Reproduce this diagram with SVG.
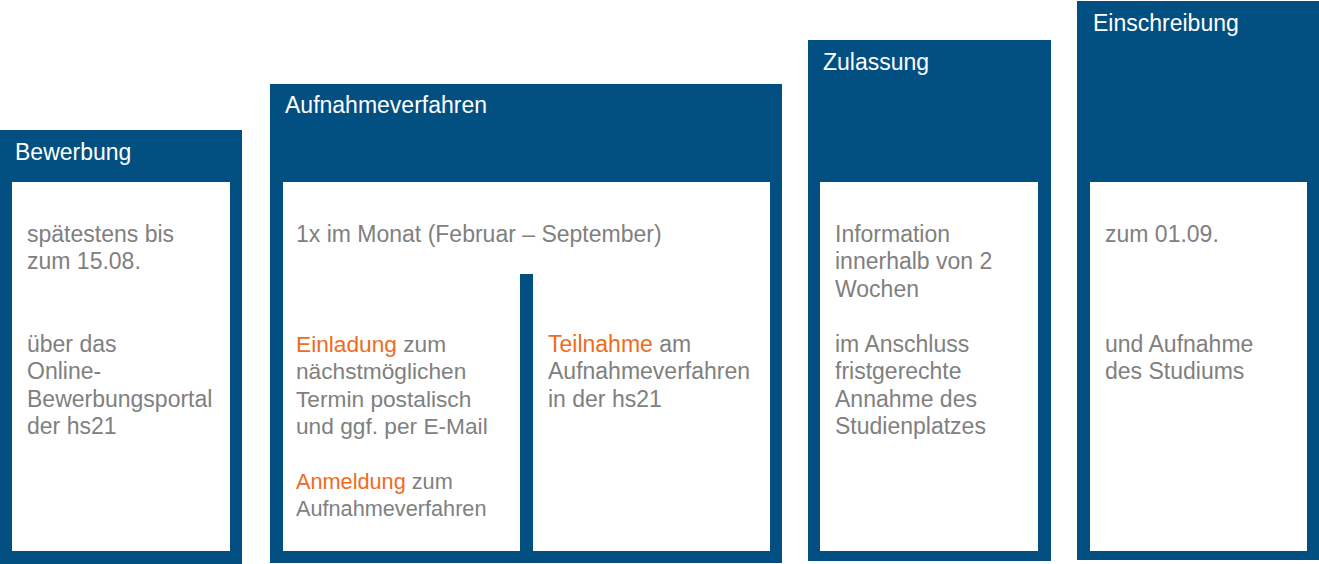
<svg xmlns="http://www.w3.org/2000/svg" width="1319" height="564" viewBox="0 0 1319 564">
<style>
.frame{fill:#024f82}
.panel{fill:#ffffff}
.title{font-family:"Liberation Sans",Arial,sans-serif;font-size:23px;fill:#ffffff}
.body{font-family:"Liberation Sans",Arial,sans-serif;font-size:23px;fill:#808080}
.s2{font-size:22.7px}
.s3{font-size:21.7px}
.hl{fill:#ef6b22}
</style>
<rect width="1319" height="564" fill="#ffffff"/>
<g id="bewerbung">
<rect class="frame" x="0" y="130" width="242" height="434"/>
<rect class="panel" x="12" y="182" width="218" height="369"/>
<text class="title" x="15" y="160">Bewerbung</text>
<text class="body" x="27" y="241.5">spätestens bis</text>
<text class="body" x="27" y="269">zum 15.08.</text>
<text class="body" x="27" y="351.5">über das</text>
<text class="body" x="27" y="379">Online-</text>
<text class="body" x="27" y="406.5">Bewerbungsportal</text>
<text class="body" x="27" y="434">der hs21</text>
</g>
<g id="aufnahmeverfahren">
<rect class="frame" x="270" y="84" width="512" height="479"/>
<rect class="panel" x="283" y="182" width="487" height="369"/>
<rect class="frame" x="520" y="274" width="13" height="277"/>
<text class="title" x="285" y="112.5">Aufnahmeverfahren</text>
<text class="body" x="296" y="241.5">1x im Monat (Februar – September)</text>
<text class="body s2" x="296" y="351.7"><tspan class="hl">Einladung</tspan> zum</text>
<text class="body s2" x="296" y="379.2">nächstmöglichen</text>
<text class="body s2" x="296" y="406.7">Termin postalisch</text>
<text class="body s2" x="296" y="434.2">und ggf. per E-Mail</text>
<text class="body s3" x="296" y="489"><tspan class="hl">Anmeldung</tspan> zum</text>
<text class="body s3" x="296" y="515.7">Aufnahmeverfahren</text>
<text class="body" x="548" y="351.7"><tspan class="hl">Teilnahme</tspan> am</text>
<text class="body" x="548" y="379.2">Aufnahmeverfahren</text>
<text class="body" x="548" y="406.7">in der hs21</text>
</g>
<g id="zulassung">
<rect class="frame" x="808" y="40" width="243" height="521"/>
<rect class="panel" x="820" y="182" width="218" height="369"/>
<text class="title" x="823" y="70">Zulassung</text>
<text class="body" x="835" y="241.5">Information</text>
<text class="body" x="835" y="269">innerhalb von 2</text>
<text class="body" x="835" y="296.5">Wochen</text>
<text class="body" x="835" y="351.5">im Anschluss</text>
<text class="body" x="835" y="379">fristgerechte</text>
<text class="body" x="835" y="406.5">Annahme des</text>
<text class="body" x="835" y="434">Studienplatzes</text>
</g>
<g id="einschreibung">
<rect class="frame" x="1077" y="1" width="242" height="559"/>
<rect class="panel" x="1090" y="182" width="217" height="369"/>
<text class="title" x="1093" y="31">Einschreibung</text>
<text class="body" x="1105" y="241.5">zum 01.09.</text>
<text class="body" x="1105" y="351.5">und Aufnahme</text>
<text class="body" x="1105" y="379">des Studiums</text>
</g>
<g id="connectors"/>
</svg>
